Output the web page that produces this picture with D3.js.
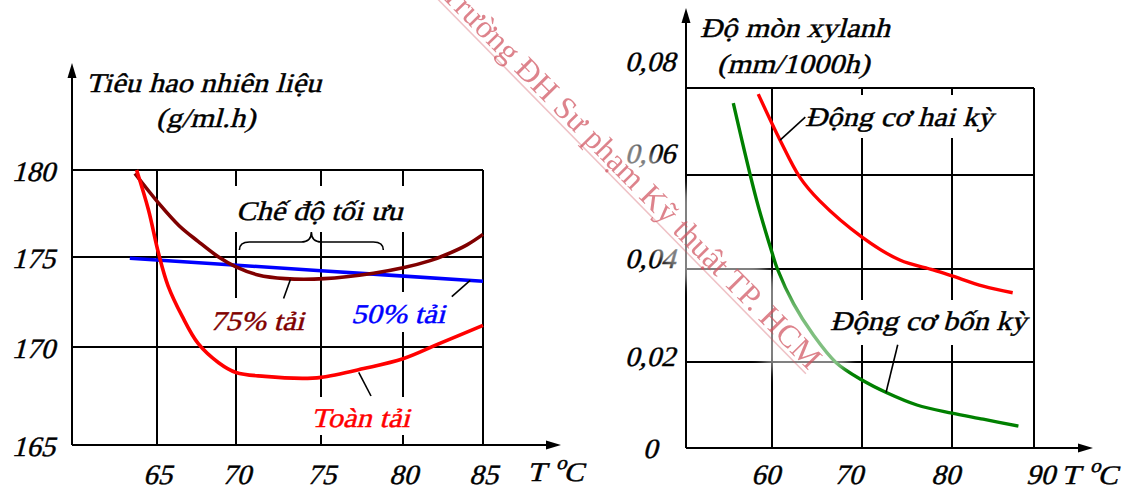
<!DOCTYPE html>
<html>
<head>
<meta charset="utf-8">
<script src="https://cdn.jsdelivr.net/npm/d3@7"></script>
<style>
  html, body { margin: 0; padding: 0; background: #fff; }
  svg { display: block; }
</style>
</head>
<body>
<svg id="chart" width="1127" height="490"></svg>
<script>
// ---- Left panel: fuel consumption (g/ml.h) vs. coolant temperature (°C) ----
const fuelTicksT = [65, 70, 75, 80, 85];
const fuelTicksG = [165, 170, 175, 180];

// full load
const fullLoadT = [63.8, 64.5, 65.1, 65.7, 66.6, 67.6, 68.9, 70.0, 71.7, 73.9, 75.0, 77.6, 80.0, 82.3, 85.0];
const fullLoadG = [180.0, 177.7, 175.2, 173.4, 171.7, 170.2, 169.2, 168.7, 168.5, 168.4, 168.45, 168.9, 169.4, 170.2, 171.2];
// 75 % load
const load75T = [63.7, 65.1, 66.4, 67.6, 68.9, 70.0, 71.3, 72.9, 75.2, 78.2, 80.0, 81.7, 82.6, 84.0, 85.0];
const load75G = [179.8, 178.1, 176.8, 175.9, 175.0, 174.45, 174.0, 173.8, 173.8, 174.1, 174.4, 174.8, 175.1, 175.7, 176.3];
// 50 % load
const load50T = [63.4, 75.0, 85.0];
const load50G = [174.93, 174.24, 173.65];
// optimal temperature band
const optimalRange = [70.2, 78.8];

// ---- Right panel: cylinder wear (mm/1000h) vs. coolant temperature (°C) ----
const wearTicksT = [60, 70, 80, 90];
const wearTicksW = [0, 0.02, 0.04, 0.06, 0.08];

const twoStrokeT = [58.4, 60.9, 63.1, 65.3, 70.0, 74.2, 77.9, 80.0, 83.8, 87.4];
const twoStrokeW = [0.0786, 0.068, 0.0595, 0.0545, 0.0468, 0.0419, 0.0398, 0.0385, 0.0363, 0.0349];
const fourStrokeT = [55.5, 58.2, 60.0, 60.6, 62.4, 64.6, 67.1, 70.0, 72.7, 76.1, 80.0, 83.8, 88.1];
const fourStrokeW = [0.0765, 0.0547, 0.0435, 0.040, 0.0325, 0.0258, 0.0199, 0.0158, 0.0129, 0.0100, 0.0081, 0.0067, 0.0051];

// leader lines (data units): from curve to label
const leaderFull = [[77.3, 168.7], [78.05, 167.5]];
const leader75 = [[73.2, 173.75], [72.8, 172.7]];
const leader50 = [[84.2, 173.7], [83.05, 172.8]];
const leaderTwo = [[60.9, 0.068], [63.7, 0.0733]];
const leaderFour = [[72.67, 0.0129], [73.97, 0.0237]];

const SERIF = '"Liberation Serif", "Times New Roman", "DejaVu Serif", serif';
const SLANT = -15;     // oblique angle for the lettering
const LABEL_FS = 27, LABEL_SX = 1.13;   // captions and annotations
const TICK_FS = 28, TICK_SX = 1.03;     // tick numbers
const svg = d3.select("#chart");
const zip = (a, b) => a.map((v, i) => [v, b[i]]);

// scales (grid is hand-drawn, so the scales are piecewise linear)
const xL = d3.scaleLinear().domain([60, 65, 70, 75, 80, 85]).range([72, 157, 236, 321, 403, 483]);
const yL = d3.scaleLinear().domain([165, 170, 175, 180]).range([445, 347, 257, 170]);
const xR = d3.scaleLinear().domain([50, 60, 70, 80, 90]).range([686, 772, 862, 952, 1034]);
const yR = d3.scaleLinear().domain([0, 0.02, 0.04, 0.06, 0.08]).range([448, 362, 269, 175, 88]);
// tick-label placement for the right panel
const xRLab = d3.scaleLinear().domain([60, 70, 80, 90]).range([765, 848, 945, 1040]);
const yRLab = d3.scaleLinear().domain([0, 0.02, 0.04, 0.06, 0.08]).range([447, 355, 257, 152, 60]);

const gridW = 2;

function hline(g, x1, x2, y) {
  g.append("line").attr("x1", x1).attr("x2", x2).attr("y1", y).attr("y2", y)
    .attr("stroke", "#000").attr("stroke-width", gridW);
}
function vline(g, x, y1, y2) {
  g.append("line").attr("x1", x).attr("x2", x).attr("y1", y1).attr("y2", y2)
    .attr("stroke", "#000").attr("stroke-width", gridW);
}
function arrowUp(g, x, yTip) {
  g.append("path").attr("d", `M${x},${yTip} L${x - 4.5},${yTip + 15} L${x + 4.5},${yTip + 15} Z`).attr("fill", "#000");
}
function arrowRight(g, xTip, y) {
  g.append("path").attr("d", `M${xTip},${y} L${xTip - 15},${y - 4.5} L${xTip - 15},${y + 4.5} Z`).attr("fill", "#000");
}
function whiteBox(g, x, y, w, h) {
  g.append("rect").attr("x", x).attr("y", y).attr("width", w).attr("height", h).attr("fill", "#fff");
}
function ink(sel, color) {
  return sel.attr("fill", color).attr("stroke", color).attr("stroke-width", 0.45)
    .style("font-family", SERIF).style("font-style", "normal");
}
// slanted serif text whose baseline origin sits at (x, y)
function slanted(g, x, y, color) {
  return ink(g.append("text")
    .attr("transform", `translate(${x},${y}) skewX(${SLANT}) scale(${LABEL_SX},1)`)
    .attr("font-size", LABEL_FS), color || "#000");
}
function label(g, txt, x, y, color) {
  return slanted(g, x, y, color).text(txt);
}
function degLabel(g, x, y) {
  const t = slanted(g, x, y);
  t.append("tspan").text("T ");
  t.append("tspan").attr("dy", -12).attr("font-size", 19).text("o");
  t.append("tspan").attr("dy", 12).text("C");
}
// restyle axis tick text: drop the dy offset and slant around the baseline
function styleTicks(ax, baseline, anchor) {
  ax.select(".domain").remove();
  ax.selectAll(".tick text").each(function () {
    const t = d3.select(this);
    const x0 = +t.attr("x") || 0;
    t.attr("x", null).attr("y", null).attr("dy", null)
      .attr("transform", `translate(${x0},${baseline}) skewX(${SLANT}) scale(${TICK_SX},1)`)
      .attr("font-size", TICK_FS).attr("text-anchor", anchor);
    ink(t, "#000");
  });
}
const curve = d3.curveCatmullRom.alpha(0.5);

// ================= LEFT PANEL =================
const L = svg.append("g");
const gridL = L.append("g");
// horizontal grid
fuelTicksG.filter(v => v > 165).forEach(v => hline(gridL, xL(60), xL(85), yL(v)));
// vertical grid
fuelTicksT.forEach(t => vline(gridL, xL(t), yL(180), yL(165)));
// axes
vline(gridL, xL(60), yL(165), 74);
arrowUp(gridL, xL(60), 63);
hline(gridL, xL(60), 548, yL(165));
arrowRight(gridL, 561, yL(165));

// text backgrounds that break the grid
whiteBox(L, 232, 186, 178, 46);
whiteBox(L, 208, 298, 104, 48);
whiteBox(L, 348, 292, 110, 40);
whiteBox(L, 308, 397, 112, 38);

const lineL = d3.line().x(d => xL(d[0])).y(d => yL(d[1])).curve(curve);
L.append("path").attr("d", lineL(zip(load50T, load50G))).attr("fill", "none")
  .attr("stroke", "#0000ff").attr("stroke-width", 3.6);
L.append("path").attr("d", lineL(zip(load75T, load75G))).attr("fill", "none")
  .attr("stroke", "#800000").attr("stroke-width", 3.6);
L.append("path").attr("d", lineL(zip(fullLoadT, fullLoadG))).attr("fill", "none")
  .attr("stroke", "#ff0000").attr("stroke-width", 3.6);

// leader lines
[leaderFull, leader75, leader50].forEach(pts => {
  L.append("line").attr("x1", xL(pts[0][0])).attr("y1", yL(pts[0][1]))
    .attr("x2", xL(pts[1][0])).attr("y2", yL(pts[1][1]))
    .attr("stroke", "#000").attr("stroke-width", 1.6);
});

// brace over the optimal range
{
  const a = xL(optimalRange[0]), b = xL(optimalRange[1]), m = (a + b) / 2;
  const yE = 250, yM = 242, yT = 232;
  const d = `M${a},${yE} Q${a},${yM} ${a + 10},${yM} L${m - 10},${yM} Q${m},${yM} ${m},${yT}` +
            ` Q${m},${yM} ${m + 10},${yM} L${b - 10},${yM} Q${b},${yM} ${b},${yE}`;
  L.append("path").attr("d", d).attr("fill", "none").attr("stroke", "#000").attr("stroke-width", 1.6);
}

// tick labels
const axL = L.append("g").attr("transform", `translate(55,0)`)
  .call(d3.axisLeft(yL).tickValues(fuelTicksG).tickSize(0).tickPadding(0));
styleTicks(axL, 10, "end");
const axLB = L.append("g").attr("transform", `translate(0,484)`)
  .call(d3.axisBottom(xL).tickValues(fuelTicksT).tickSize(0).tickPadding(0));
styleTicks(axLB, 0, "middle");

degLabel(L, 527, 481);
label(L, "Tiêu hao nhiên liệu", 86, 92);
label(L, "(g/ml.h)", 156, 127);
label(L, "Chế độ tối ưu", 236, 220);
label(L, "75% tải", 210, 330, "#800000");
label(L, "50% tải", 351, 323, "#0000ff");
label(L, "Toàn tải", 311, 427, "#ff0000");

// ================= RIGHT PANEL =================
const R = svg.append("g");
const gridR = R.append("g");
wearTicksW.filter(v => v > 0).forEach(v => hline(gridR, xR(50), xR(90), yR(v)));
wearTicksT.forEach(t => vline(gridR, xR(t), yR(0.08), yR(0)));
vline(gridR, xR(50), yR(0), 20);
arrowUp(gridR, xR(50), 8);
hline(gridR, xR(50), 1080, yR(0));
arrowRight(gridR, 1093, yR(0));

whiteBox(R, 803, 95, 192, 43);
whiteBox(R, 828, 300, 197, 45);

const lineR = d3.line().x(d => xR(d[0])).y(d => yR(d[1])).curve(curve);
R.append("path").attr("d", lineR(zip(twoStrokeT, twoStrokeW))).attr("fill", "none")
  .attr("stroke", "#ff0000").attr("stroke-width", 3.4);
R.append("path").attr("d", lineR(zip(fourStrokeT, fourStrokeW))).attr("fill", "none")
  .attr("stroke", "#008000").attr("stroke-width", 3.4);

[leaderTwo, leaderFour].forEach(pts => {
  R.append("line").attr("x1", xR(pts[0][0])).attr("y1", yR(pts[0][1]))
    .attr("x2", xR(pts[1][0])).attr("y2", yR(pts[1][1]))
    .attr("stroke", "#000").attr("stroke-width", 1.6);
});

const fmtWear = v => v === 0 ? "0" : v.toFixed(2).replace(".", ",");
const axR = R.append("g").attr("transform", `translate(650,0)`)
  .call(d3.axisLeft(yRLab).tickValues(wearTicksW).tickFormat(fmtWear).tickSize(0).tickPadding(0));
styleTicks(axR, 10, "middle");
const axRB = R.append("g").attr("transform", `translate(0,484)`)
  .call(d3.axisBottom(xRLab).tickValues(wearTicksT).tickSize(0).tickPadding(0));
styleTicks(axRB, 0, "middle");

degLabel(R, 1061, 484);
label(R, "Độ mòn xylanh", 700, 37);
label(R, "(mm/1000h)", 717, 73);
label(R, "Động cơ hai kỳ", 805, 126);
label(R, "Động cơ bốn kỳ", 830, 330);

// ================= WATERMARK =================
const defs = svg.append("defs");
defs.append("filter").attr("id", "soft").attr("x", "-10%").attr("y", "-50%").attr("width", "120%").attr("height", "200%")
  .append("feGaussianBlur").attr("stdDeviation", 5);
const wm = svg.append("g").attr("transform", "translate(684,244) rotate(45.5)");
wm.append("rect").attr("x", -420).attr("y", -40).attr("width", 620).attr("height", 66)
  .attr("fill", "#fff").attr("opacity", 0.5).attr("filter", "url(#soft)");
// faint shadow line under the lettering
wm.append("line").attr("x1", -348).attr("x2", 178).attr("y1", 4).attr("y2", 4)
  .attr("stroke", "#d0505c").attr("stroke-width", 1.5).attr("opacity", 0.35);
wm.append("text").attr("x", -348).attr("y", 0)
  .attr("textLength", 526).attr("lengthAdjust", "spacing")
  .attr("font-size", 32)
  .style("font-family", SERIF).style("font-style", "normal")
  .attr("fill", "#d0505c").attr("opacity", 0.7)
  .text("Trường ĐH Sư phạm Kỹ thuật TP. HCM");
</script>
</body>
</html>
